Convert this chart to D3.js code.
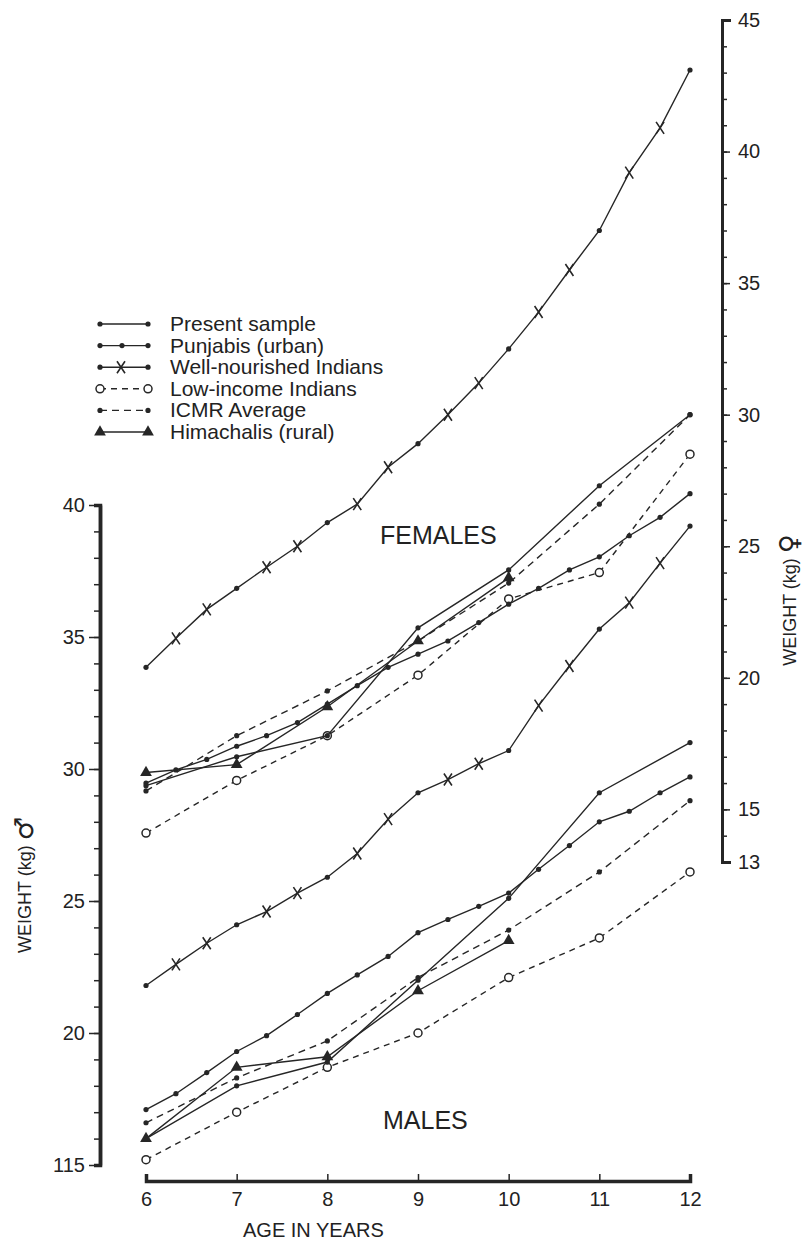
<!doctype html>
<html>
<head>
<meta charset="utf-8">
<title>Weight by age</title>
<style>
body{margin:0;background:#fff;}
svg text{font-family:"Liberation Sans",Arial,sans-serif;fill:#222;}
</style>
</head>
<body>
<svg></svg>
<script src="https://cdn.jsdelivr.net/npm/d3@7/dist/d3.min.js"></script>
<script>
var width = 807, height = 1246;
var ink = '#262626';

// ages (years)
var ages = [6, 7, 8, 9, 10, 11, 12];
var agesHim = [6, 7, 8, 9, 10];
var agesThird = [6, 6.33, 6.67, 7, 7.33, 7.67, 8, 8.33, 8.67, 9, 9.33, 9.67, 10, 10.33, 10.67, 11, 11.33, 11.67, 12];

// females, kg (right axis)
var femPresent = [15.9, 17.0, 17.8, 21.9, 24.1, 27.3, 30.0];
var femPunjabi = [16.0, 16.5, 16.9, 17.4, 17.8, 18.3, 19.0, 19.7, 20.4, 20.9, 21.4, 22.1, 22.8, 23.4, 24.1, 24.6, 25.4, 26.1, 27.0];
var femWell = [20.4, 21.5, 22.6, 23.4, 24.2, 25.0, 25.9, 26.6, 28.0, 28.9, 30.0, 31.2, 32.5, 33.9, 35.5, 37.0, 39.2, 40.9, 43.1];
var femLowInc = [14.1, 16.1, 17.8, 20.1, 23.0, 24.0, 28.5];
var femICMR = [15.7, 17.8, 19.5, 21.4, 23.6, 26.6, 30.0];
var femHim = [16.4, 16.7, 18.9, 21.4, 23.8];

// males, kg (left axis)
var malePresent = [16.0, 18.0, 18.9, 22.0, 25.1, 29.1, 31.0];
var malePunjabi = [17.1, 17.7, 18.5, 19.3, 19.9, 20.7, 21.5, 22.2, 22.9, 23.8, 24.3, 24.8, 25.3, 26.2, 27.1, 28.0, 28.4, 29.1, 29.7];
var maleWell = [21.8, 22.6, 23.4, 24.1, 24.6, 25.3, 25.9, 26.8, 28.1, 29.1, 29.6, 30.2, 30.7, 32.4, 33.9, 35.3, 36.3, 37.8, 39.2];
var maleLowInc = [15.2, 17.0, 18.7, 20.0, 22.1, 23.6, 26.1];
var maleICMR = [16.6, 18.3, 19.7, 22.1, 23.9, 26.1, 28.8];
var maleHim = [16.0, 18.7, 19.1, 21.6, 23.5];

// axis ticks
var ageTicks = [6, 7, 8, 9, 10, 11, 12];
var maleTicks = [15, 20, 25, 30, 35, 40];
var femaleTicks = [13, 15, 20, 25, 30, 35, 40, 45];

var legendNames = ['Present sample', 'Punjabis (urban)', 'Well-nourished Indians', 'Low-income Indians', 'ICMR Average', 'Himachalis (rural)'];

var svg = d3.select('svg').attr('width', width).attr('height', height);
svg.append('rect').attr('width', width).attr('height', height).attr('fill', '#fff');

var x = d3.scaleLinear().domain([6, 12]).range([146, 690]);
var yM = d3.scaleLinear().domain([15, 40]).range([1165, 505]);
var yF = d3.scaleLinear().domain([13, 45]).range([862, 20]);

// styles: dash pattern and marker at each point
var styles = {
  present: {dash: null, mark: function () { return 'dot'; }},
  punjabi: {dash: null, mark: function () { return 'dot'; }},
  well: {dash: null, mark: function (a) { return Number.isInteger(a) ? 'dot' : 'x'; }},
  lowinc: {dash: '6,5', mark: function () { return 'ring'; }},
  icmr: {dash: '7,5', mark: function () { return 'dot'; }},
  him: {dash: null, mark: function () { return 'tri'; }}
};

var series = [
  {ages: agesThird, vals: femWell, y: yF, st: 'well'},
  {ages: ages, vals: femLowInc, y: yF, st: 'lowinc'},
  {ages: ages, vals: femICMR, y: yF, st: 'icmr'},
  {ages: agesThird, vals: femPunjabi, y: yF, st: 'punjabi'},
  {ages: ages, vals: femPresent, y: yF, st: 'present'},
  {ages: agesHim, vals: femHim, y: yF, st: 'him'},
  {ages: agesThird, vals: maleWell, y: yM, st: 'well'},
  {ages: ages, vals: maleLowInc, y: yM, st: 'lowinc'},
  {ages: ages, vals: maleICMR, y: yM, st: 'icmr'},
  {ages: agesThird, vals: malePunjabi, y: yM, st: 'punjabi'},
  {ages: ages, vals: malePresent, y: yM, st: 'present'},
  {ages: agesHim, vals: maleHim, y: yM, st: 'him'}
];

function marker(g, type, cx, cy) {
  if (type === 'dot') {
    g.append('circle').attr('cx', cx).attr('cy', cy).attr('r', 2.6).attr('fill', ink);
  } else if (type === 'ring') {
    g.append('circle').attr('cx', cx).attr('cy', cy).attr('r', 4)
      .attr('fill', '#fff').attr('stroke', ink).attr('stroke-width', 1.5);
  } else if (type === 'tri') {
    g.append('path').attr('d', d3.symbol(d3.symbolTriangle, 60)())
      .attr('transform', 'translate(' + cx + ',' + cy + ')').attr('fill', ink);
  } else if (type === 'x') {
    g.append('path').attr('d', 'M-4,-6L4,6M4,-6L-4,6')
      .attr('transform', 'translate(' + cx + ',' + cy + ')')
      .attr('stroke', ink).attr('stroke-width', 1.6).attr('fill', 'none');
  }
}

var plot = svg.append('g');
series.forEach(function (s) {
  var pts = s.ages.map(function (a, i) { return {a: a, v: s.vals[i]}; });
  var line = d3.line().x(function (d) { return x(d.a); }).y(function (d) { return s.y(d.v); });
  plot.append('path').datum(pts).attr('d', line)
    .attr('fill', 'none').attr('stroke', ink).attr('stroke-width', 1.4)
    .attr('stroke-dasharray', styles[s.st].dash);
  var mg = plot.append('g');
  pts.forEach(function (d) { marker(mg, styles[s.st].mark(d.a), x(d.a), s.y(d.v)); });
});

// axes
function styleAxis(g, w) {
  g.select('.domain').attr('stroke', ink).attr('stroke-width', w);
  g.selectAll('.tick line').attr('stroke', ink).attr('stroke-width', 1.5);
  g.selectAll('.tick text').style('font-size', '20px').attr('fill', '#222');
}

var leftMinor = svg.append('g').attr('transform', 'translate(100,0)')
  .call(d3.axisLeft(yM).tickValues(d3.range(15, 41)).tickSize(6).tickFormat(''));
styleAxis(leftMinor, 3.5);
var leftMajor = svg.append('g').attr('transform', 'translate(100,0)')
  .call(d3.axisLeft(yM).tickValues(maleTicks).tickSize(11).tickSizeOuter(0).tickPadding(4)
    .tickFormat(function (d) { return d === 15 ? '115' : d; }));
styleAxis(leftMajor, 3.5);

var rightMinor = svg.append('g').attr('transform', 'translate(722,0)')
  .call(d3.axisRight(yF).tickValues(d3.range(13, 46)).tickSize(5).tickSizeOuter(9).tickFormat(''));
styleAxis(rightMinor, 3);
var rightMajor = svg.append('g').attr('transform', 'translate(722,0)')
  .call(d3.axisRight(yF).tickValues(femaleTicks).tickSize(8).tickSizeOuter(9).tickPadding(8));
styleAxis(rightMajor, 3);

var bottom = svg.append('g').attr('transform', 'translate(0,1181)')
  .call(d3.axisBottom(x).tickValues(ageTicks).tickFormat(d3.format('d'))
    .tickSizeInner(-7).tickSizeOuter(-7).tickPadding(11));
styleAxis(bottom, 3.5);

// axis titles
svg.append('text').attr('x', 243).attr('y', 1237).style('font-size', '20px').text('AGE IN YEARS');

var yl = svg.append('text').attr('transform', 'translate(31,885) rotate(-90)')
  .attr('text-anchor', 'middle').style('font-size', '18px');
yl.append('tspan').text('WEIGHT (kg) ');
yl.append('tspan').style('font-size', '26px').style('font-family', '"DejaVu Sans",sans-serif').attr('dy', '2').text('\u2642');

var yr = svg.append('text').attr('transform', 'translate(796,600) rotate(-90)')
  .attr('text-anchor', 'middle').style('font-size', '18px');
yr.append('tspan').text('WEIGHT (kg) ');
yr.append('tspan').style('font-size', '26px').style('font-family', '"DejaVu Sans",sans-serif').attr('dy', '2').text('\u2640');

// group labels
svg.append('text').attr('x', 380).attr('y', 544).style('font-size', '25px').text('FEMALES');
svg.append('text').attr('x', 383).attr('y', 1129).style('font-size', '25px').text('MALES');

// legend
var legendStyles = ['present', 'punjabi', 'well', 'lowinc', 'icmr', 'him'];
var legend = svg.append('g');
legendNames.forEach(function (name, i) {
  var st = styles[legendStyles[i]];
  var ly = 324 + i * 21.6;
  legend.append('line').attr('x1', 100).attr('x2', 148).attr('y1', ly).attr('y2', ly)
    .attr('stroke', ink).attr('stroke-width', 1.4).attr('stroke-dasharray', st.dash);
  var endMark = legendStyles[i] === 'well' ? 'dot' : st.mark(6);
  marker(legend, endMark, 100, ly);
  marker(legend, endMark, 148, ly);
  if (legendStyles[i] === 'punjabi') marker(legend, 'dot', 122, ly);
  if (legendStyles[i] === 'well') marker(legend, 'x', 121, ly);
  legend.append('text').attr('x', 170).attr('y', ly + 7).style('font-size', '21px').text(name);
});
</script>
</body>
</html>
